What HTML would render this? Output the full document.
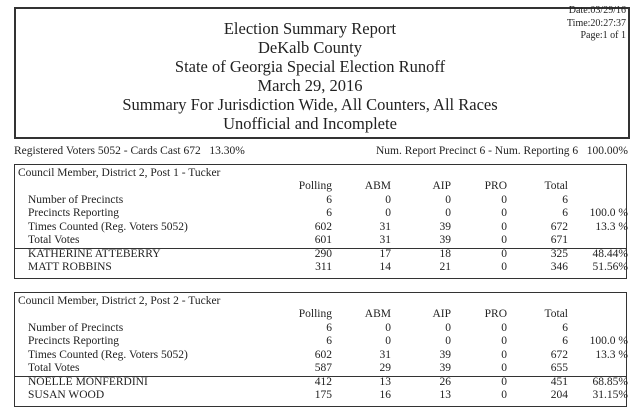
<!DOCTYPE html>
<html><head><meta charset="utf-8"><style>
body{margin:0;width:640px;height:417px;background:#fff;font-family:"Liberation Serif",serif;color:#222;position:relative;overflow:hidden}
.a{position:absolute;white-space:nowrap}
.box{position:absolute;border:1.5px solid #333}
.t{font-size:16.5px;left:0;width:620px;text-align:center}
.s{font-size:11.5px}
.r{text-align:right}
</style></head><body>
<div class="box" style="left:14px;top:7px;width:612px;height:128px;border-width:2px"></div>
<div class="a t" style="top:19px">Election Summary Report</div>
<div class="a t" style="top:38px">DeKalb County</div>
<div class="a t" style="top:57px">State of Georgia Special Election Runoff</div>
<div class="a t" style="top:76px">March 29, 2016</div>
<div class="a t" style="top:95px">Summary For Jurisdiction Wide, All Counters, All Races</div>
<div class="a t" style="top:114px">Unofficial and Incomplete</div>
<div class="a r" style="right:14px;top:5px;font-size:10px;line-height:12.5px">Date:03/29/16<br>Time:20:27:37<br>Page:1 of 1</div>
<div class="a s" style="left:14px;top:145px">Registered Voters 5052 - Cards Cast 672 &nbsp;&nbsp;13.30%</div>
<div class="a s r" style="right:12px;top:145px">Num. Report Precinct 6 - Num. Reporting 6 &nbsp;&nbsp;100.00%</div>

<div id="b1"></div>
<script>
function block(top,title,vals){
 let h='';
 h+=`<div class="box" style="left:14px;top:${top}px;width:611px;height:113px"></div>`;
 h+=`<div class="a s" style="left:18px;top:${top+3}px">${title}</div>`;
 const cols=[332,391,451,507,568];
 const hd=['Polling','ABM','AIP','PRO','Total'];
 hd.forEach((t,i)=>h+=`<div class="a s r" style="right:${640-cols[i]}px;top:${top+16}px">${t}</div>`);
 const ys=[30,43,57,70,84,97];
 vals.forEach((row,j)=>{
  h+=`<div class="a s" style="left:28px;top:${top+ys[j]}px">${row[0]}</div>`;
  for(let i=0;i<5;i++) h+=`<div class="a s r" style="right:${640-cols[i]}px;top:${top+ys[j]}px">${row[i+1]}</div>`;
  if(row[6]) h+=`<div class="a s r" style="right:12px;top:${top+ys[j]}px">${row[6]}</div>`;
 });
 h+=`<div class="a" style="left:14px;top:${top+84}px;width:612px;border-top:1.3px solid #333"></div>`;
 return h;
}
document.getElementById('b1').outerHTML=
block(164,'Council Member, District 2, Post 1 - Tucker',[
['Number of Precincts',6,0,0,0,6,''],
['Precincts Reporting',6,0,0,0,6,'100.0 %'],
['Times Counted (Reg. Voters 5052)',602,31,39,0,672,'13.3 %'],
['Total Votes',601,31,39,0,671,''],
['KATHERINE ATTEBERRY',290,17,18,0,325,'48.44%'],
['MATT ROBBINS',311,14,21,0,346,'51.56%']])+
block(292,'Council Member, District 2, Post 2 - Tucker',[
['Number of Precincts',6,0,0,0,6,''],
['Precincts Reporting',6,0,0,0,6,'100.0 %'],
['Times Counted (Reg. Voters 5052)',602,31,39,0,672,'13.3 %'],
['Total Votes',587,29,39,0,655,''],
['NOELLE MONFERDINI',412,13,26,0,451,'68.85%'],
['SUSAN WOOD',175,16,13,0,204,'31.15%']]);
</script>
</body></html>
